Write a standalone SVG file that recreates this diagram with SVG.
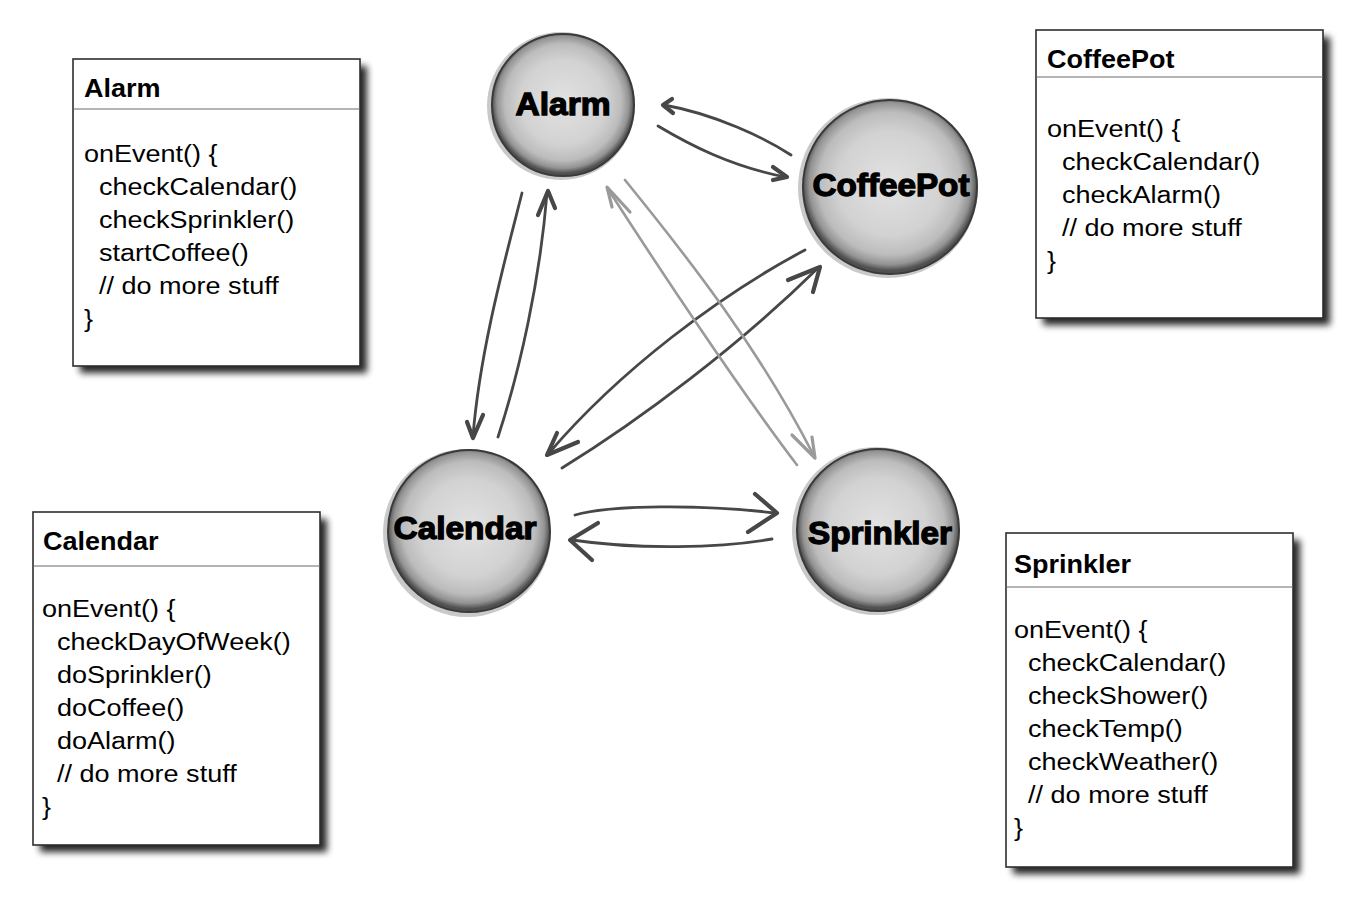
<svg xmlns="http://www.w3.org/2000/svg" width="1356" height="910" viewBox="0 0 1356 910">
<style>
  .box { fill: #ffffff; stroke: #2e2e2e; stroke-width: 1.6; }
  .div { stroke: #6a6a6a; stroke-width: 1.2; }
  .shadow { fill: #000; opacity: 0.85; filter: url(#blur); }
  .title { font-family: "Liberation Sans", Arial, sans-serif; font-weight: bold; font-size: 25px; fill: #000; }
  .body { font-family: "Liberation Sans", Arial, sans-serif; font-size: 23px; fill: #000; }
  .ball { fill: url(#sphere); stroke: #3a3a3a; stroke-width: 2; }
  .halo { fill: #c9c9c9; }
  .lbl { font-family: "Liberation Sans", Arial, sans-serif; font-weight: bold; font-size: 31px; fill: #000; stroke: #000; stroke-width: 1.3; text-anchor: middle; }
  .dark { fill: none; stroke: #474747; stroke-width: 2.8; stroke-linecap: round; stroke-linejoin: round; }
  .light { fill: none; stroke: #9a9a9a; stroke-width: 2.6; stroke-linecap: round; stroke-linejoin: round; }
  .dhead { fill: none; stroke: #474747; stroke-width: 4.2; stroke-linecap: round; stroke-linejoin: round; }
  .lhead { fill: none; stroke: #9a9a9a; stroke-width: 3.2; stroke-linecap: round; stroke-linejoin: round; }
</style>
<defs>
  <filter id="blur" x="-10%" y="-10%" width="130%" height="130%">
    <feGaussianBlur stdDeviation="3.5"/>
  </filter>
  <radialGradient id="sphere" cx="50%" cy="48%" r="50%">
    <stop offset="0%" stop-color="#e2e2e2"/>
    <stop offset="60%" stop-color="#d2d2d2"/>
    <stop offset="82%" stop-color="#bcbcbc"/>
    <stop offset="93%" stop-color="#939393"/>
    <stop offset="100%" stop-color="#505050"/>
  </radialGradient>
</defs>
<rect width="1356" height="910" fill="#ffffff"/>

<g id="box-alarm">
  <rect class="shadow" x="80" y="66" width="287" height="307"/>
  <rect class="box" x="73" y="59" width="287" height="307"/>
  <line class="div" x1="73" y1="109" x2="360" y2="109"/>
  <text class="title" transform="translate(84 97) scale(1.08 1)">Alarm</text>
  <g transform="translate(84 0) scale(1.175 1)">
    <text class="body" x="0" y="162">onEvent() {</text>
    <text class="body" x="12.8" y="195">checkCalendar()</text>
    <text class="body" x="12.8" y="228">checkSprinkler()</text>
    <text class="body" x="12.8" y="261">startCoffee()</text>
    <text class="body" x="12.8" y="294">// do more stuff</text>
    <text class="body" x="0" y="327">}</text>
  </g>
</g>

<g id="box-coffeepot">
  <rect class="shadow" x="1043" y="37" width="287" height="288"/>
  <rect class="box" x="1036" y="30" width="287" height="288"/>
  <line class="div" x1="1036" y1="77" x2="1323" y2="77"/>
  <text class="title" transform="translate(1047 68) scale(1.08 1)">CoffeePot</text>
  <g transform="translate(1047 0) scale(1.175 1)">
    <text class="body" x="0" y="137">onEvent() {</text>
    <text class="body" x="12.8" y="170">checkCalendar()</text>
    <text class="body" x="12.8" y="203">checkAlarm()</text>
    <text class="body" x="12.8" y="236">// do more stuff</text>
    <text class="body" x="0" y="269">}</text>
  </g>
</g>

<g id="box-calendar">
  <rect class="shadow" x="40" y="519" width="287" height="333"/>
  <rect class="box" x="33" y="512" width="287" height="333"/>
  <line class="div" x1="33" y1="566" x2="320" y2="566"/>
  <text class="title" transform="translate(43 550) scale(1.08 1)">Calendar</text>
  <g transform="translate(42 0) scale(1.175 1)">
    <text class="body" x="0" y="617">onEvent() {</text>
    <text class="body" x="12.8" y="650">checkDayOfWeek()</text>
    <text class="body" x="12.8" y="683">doSprinkler()</text>
    <text class="body" x="12.8" y="716">doCoffee()</text>
    <text class="body" x="12.8" y="749">doAlarm()</text>
    <text class="body" x="12.8" y="782">// do more stuff</text>
    <text class="body" x="0" y="815">}</text>
  </g>
</g>

<g id="box-sprinkler">
  <rect class="shadow" x="1013" y="540" width="287" height="334"/>
  <rect class="box" x="1006" y="533" width="287" height="334"/>
  <line class="div" x1="1006" y1="587" x2="1293" y2="587"/>
  <text class="title" transform="translate(1014 573) scale(1.08 1)">Sprinkler</text>
  <g transform="translate(1014 0) scale(1.175 1)">
    <text class="body" x="0" y="638">onEvent() {</text>
    <text class="body" x="12" y="671">checkCalendar()</text>
    <text class="body" x="12" y="704">checkShower()</text>
    <text class="body" x="12" y="737">checkTemp()</text>
    <text class="body" x="12" y="770">checkWeather()</text>
    <text class="body" x="12" y="803">// do more stuff</text>
    <text class="body" x="0" y="836">}</text>
  </g>
</g>

<g id="connectors">
  <!-- Alarm <-> CoffeePot -->
  <path class="dark" d="M791,155 C765,138 715,114 664,105"/>
  <path class="dhead" d="M672,99 L663,105 L673,113"/>
  <path class="dark" d="M658,126 C690,145 730,166 785,177"/>
  <path class="dhead" d="M773,167 L787,177 L773,180"/>
  <!-- Alarm <-> Calendar -->
  <path class="dark" d="M522,193 C505,260 480,350 473,436"/>
  <path class="dhead" d="M467,422 L473,438 L483,415"/>
  <path class="dark" d="M498,437 C520,370 540,280 547,193"/>
  <path class="dhead" d="M538,215 L548,191 L555,208"/>
  <!-- CoffeePot <-> Calendar -->
  <path class="dark" d="M805,250 C720,295 620,370 549,453"/>
  <path class="dhead" d="M557,433 L547,455 L578,442"/>
  <path class="dark" d="M562,468 C640,420 740,345 818,268"/>
  <path class="dhead" d="M788,280 L820,267 L813,292"/>
  <!-- Alarm <-> Sprinkler -->
  <path class="light" d="M797,465 C740,390 660,270 608,189"/>
  <path class="lhead" d="M612,207 L607,187 L630,212"/>
  <path class="light" d="M625,180 C690,260 760,350 814,456"/>
  <path class="lhead" d="M792,435 L815,458 L812,437"/>
  <!-- Calendar <-> Sprinkler -->
  <path class="dark" d="M575,515 C610,505 700,504 775,513"/>
  <path class="dhead" d="M755,494 L777,513 L748,532"/>
  <path class="dark" d="M772,539 C720,548 640,550 572,540"/>
  <path class="dhead" d="M598,523 L570,540 L592,560"/>
</g>

<g id="node-alarm">
  <circle class="halo" cx="561" cy="106" r="74"/>
  <circle class="ball" cx="563" cy="105" r="71"/>
  <text class="lbl" x="563" y="115" textLength="95" lengthAdjust="spacingAndGlyphs">Alarm</text>
</g>
<g id="node-coffeepot">
  <circle class="halo" cx="888" cy="188" r="90"/>
  <circle class="ball" cx="890" cy="187" r="87"/>
  <text class="lbl" x="891" y="196" textLength="157" lengthAdjust="spacingAndGlyphs">CoffeePot</text>
</g>
<g id="node-calendar">
  <circle class="halo" cx="467" cy="533" r="84"/>
  <circle class="ball" cx="469" cy="531" r="81"/>
  <text class="lbl" x="465" y="539" textLength="143" lengthAdjust="spacingAndGlyphs">Calendar</text>
</g>
<g id="node-sprinkler">
  <circle class="halo" cx="876" cy="531" r="84"/>
  <circle class="ball" cx="878" cy="530" r="81"/>
  <text class="lbl" x="880" y="544" textLength="144" lengthAdjust="spacingAndGlyphs">Sprinkler</text>
</g>
</svg>
